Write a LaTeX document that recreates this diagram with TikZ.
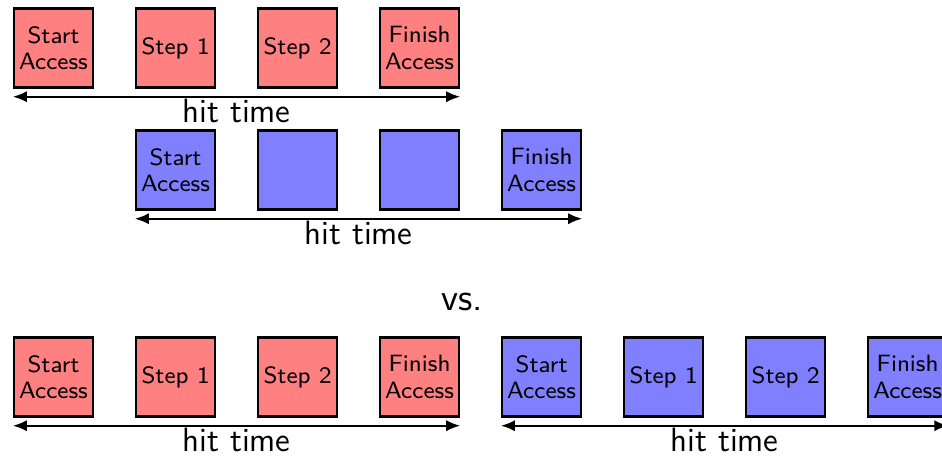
\documentclass[tikz,border=0pt]{standalone}
\usetikzlibrary{arrows.meta, positioning, calc}
\tikzset{
  stage/.style={rectangle, draw=black, fill=#1!50, thick, minimum size=0.99cm,
                inner sep=0pt, align=center,
                font=\sffamily\fontsize{8.4}{9.4}\selectfont},
  stage/.default=red,
  hitspan/.style={{Latex[length=5pt,width=4pt]}-{Latex[length=5pt,width=4pt]}, thick},
  lbl/.style={font=\sffamily\fontsize{12}{14}\selectfont, inner sep=0.5pt},
}
\begin{document}
\begin{tikzpicture}[node distance=0.507cm]
  \useasboundingbox (0,0) rectangle (11.775,-5.7);

  % one cycle, four stages
  \node[stage] (a1) at (0.669,-0.6) {Start\\Access};
  \node[stage, right=of a1] (a2) {Step 1};
  \node[stage, right=of a2] (a3) {Step 2};
  \node[stage, right=of a3] (a4) {Finish\\Access};

  \node[stage=blue, below=of a2] (b1) {Start\\Access};
  \node[stage=blue, right=of b1] (b2) {};
  \node[stage=blue, right=of b2] (b3) {};
  \node[stage=blue, right=of b3] (b4) {Finish\\Access};

  \node[font=\sffamily\fontsize{13.5}{16}\selectfont] (vs) at (5.775,-3.775) {vs.};

  % back to back
  \node[stage] (c1) at (0.669,-4.7125) {Start\\Access};
  \node[stage, right=of c1] (c2) {Step 1};
  \node[stage, right=of c2] (c3) {Step 2};
  \node[stage, right=of c3] (c4) {Finish\\Access};
  \node[stage=blue, right=of c4] (c5) {Start\\Access};
  \node[stage=blue, right=of c5] (c6) {Step 1};
  \node[stage=blue, right=of c6] (c7) {Step 2};
  \node[stage=blue, right=of c7] (c8) {Finish\\Access};

  \draw[hitspan] ($(a1.south west)+(0,-0.1)$) -- node[lbl, below] (ta) {hit time} ($(a4.south east)+(0,-0.1)$);
  \draw[hitspan] ($(b1.south west)+(0,-0.1)$) -- node[lbl, below] (tb) {hit time} ($(b4.south east)+(0,-0.1)$);
  \draw[hitspan] ($(c1.south west)+(0,-0.1)$) -- node[lbl, below] (tc) {hit time} ($(c4.south east)+(0,-0.1)$);
  \draw[hitspan] ($(c5.south west)+(0,-0.1)$) -- node[lbl, below] (td) {hit time} ($(c8.south east)+(0,-0.1)$);
\end{tikzpicture}
\end{document}
